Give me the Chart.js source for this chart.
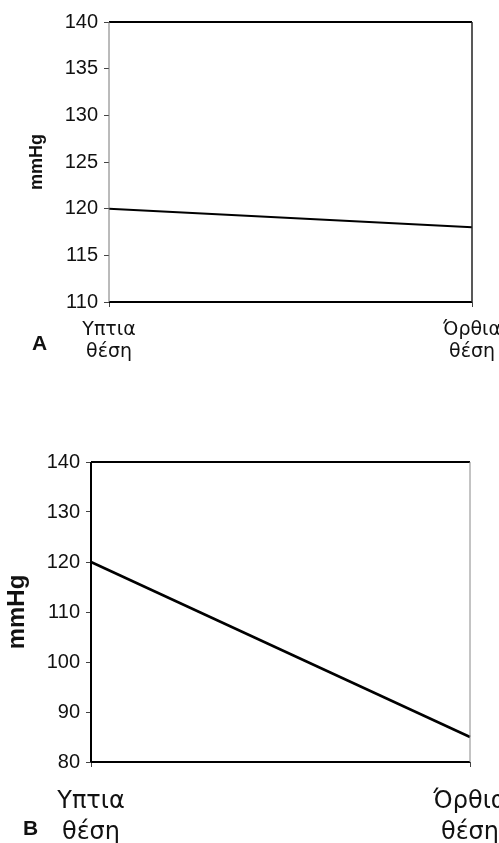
<!DOCTYPE html>
<html>
<head>
<meta charset="utf-8">
<script src="https://cdn.jsdelivr.net/npm/chart.js"></script>
<style>
  body { margin:0; width:499px; height:843px; overflow:hidden; background:#fff; position:relative; }
  canvas { position:absolute; left:0; }
  .panel { position:absolute; font-family:"Liberation Sans", Arial, sans-serif; font-size:21px; font-weight:bold; color:#111; line-height:24px; }
</style>
</head>
<body>
<canvas id="chartA" width="540" height="400" style="top:0px"></canvas>
<canvas id="chartB" width="540" height="443" style="top:400px"></canvas>
<div class="panel" style="left:32px; top:331px;">A</div>
<div class="panel" style="left:23px; top:816px;">B</div>
<script>
// positions (x axis categories)
var positions = [['Υπτια', 'θέση'], ['Όρθια', 'θέση']];
// systolic pressure, mmHg
var pressureA = [120, 118];
var pressureB = [120, 85];
// y axis ranges [min, max, step]
var rangeA = [110, 140, 5];
var rangeB = [80, 140, 10];

var ctxA = document.getElementById('chartA').getContext('2d');
var ctxB = document.getElementById('chartB').getContext('2d');

// frame round the plot area, each side its own weight
function framePlugin(sides) {
    return {
        id: 'frame',
        afterDatasetsDraw: function(chart) {
            var a = chart.chartArea, c = chart.ctx;
            function line(x1, y1, x2, y2, s) {
                c.save();
                c.strokeStyle = s[0];
                c.lineWidth = s[1];
                c.beginPath();
                c.moveTo(x1, y1);
                c.lineTo(x2, y2);
                c.stroke();
                c.restore();
            }
            line(a.left, a.top, a.right, a.top, sides.top);
            line(a.left, a.bottom, a.right, a.bottom, sides.bottom);
            line(a.left, a.top, a.left, a.bottom, sides.left);
            line(a.right, a.top, a.right, a.bottom, sides.right);
        }
    };
}

function makeChart(ctx, values, range, cfg) {
    return new Chart(ctx, {
        type: 'line',
        data: {
            labels: positions,
            datasets: [{
                data: values,
                borderColor: '#000',
                borderWidth: cfg.lineW,
                pointRadius: 0,
                tension: 0
            }]
        },
        options: {
            responsive: false,
            animation: false,
            layout: { padding: { left: 0, top: cfg.top, right: cfg.right, bottom: 0 } },
            plugins: { legend: { display: false }, tooltip: { enabled: false } },
            scales: {
                x: {
                    offset: false,
                    grid: { drawOnChartArea: false, tickLength: 5, color: '#444' },
                    border: { display: false },
                    ticks: {
                        color: '#111',
                        padding: cfg.xPad,
                        maxRotation: 0,
                        autoSkip: false,
                        font: { family: '"DejaVu Sans", sans-serif', size: cfg.xFont, lineHeight: cfg.xLine }
                    },
                    afterFit: function(scale) { scale.height = cfg.xHeight; }
                },
                y: {
                    min: range[0],
                    max: range[1],
                    grid: { drawOnChartArea: false, tickLength: 5, color: '#444' },
                    border: { display: false },
                    ticks: {
                        stepSize: range[2],
                        color: '#111',
                        padding: 6,
                        font: { family: '"Liberation Sans", Arial, sans-serif', size: cfg.yFont }
                    },
                    title: {
                        display: true,
                        text: 'mmHg',
                        color: '#111',
                        padding: { top: cfg.titlePad, bottom: 0 },
                        font: { family: '"Liberation Sans", Arial, sans-serif', size: cfg.titleFont, weight: 'bold' }
                    },
                    afterFit: function(scale) { scale.width = cfg.yWidth; }
                }
            }
        },
        plugins: [framePlugin(cfg.frame)]
    });
}

var chartA = makeChart(ctxA, pressureA, rangeA, {
    top: 22, right: 68, xHeight: 98, yWidth: 109, lineW: 2,
    xFont: 19, xLine: 1.16, xPad: 12, yFont: 20,
    titleFont: 18, titlePad: 26,
    frame: { top: ['#000', 2], bottom: ['#000', 2], left: ['#777', 1], right: ['#222', 1.5] }
});

var chartB = makeChart(ctxB, pressureB, rangeB, {
    top: 62, right: 70, xHeight: 81, yWidth: 91, lineW: 2.5,
    xFont: 24, xLine: 1.29, xPad: 19, yFont: 20,
    titleFont: 24, titlePad: 3,
    frame: { top: ['#000', 2], bottom: ['#000', 2], left: ['#000', 2], right: ['#888', 1] }
});
</script>
</body>
</html>
